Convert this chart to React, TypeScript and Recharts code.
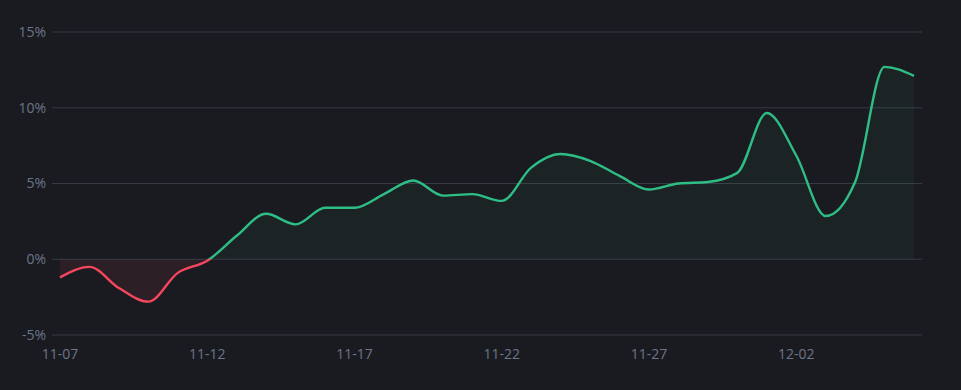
import React from "react";
import { AreaChart, Area, XAxis, YAxis, CartesianGrid } from "recharts";

const dates = [
  "11-07", "11-08", "11-09", "11-10", "11-11", "11-12", "11-13", "11-14", "11-15", "11-16",
  "11-17", "11-18", "11-19", "11-20", "11-21", "11-22", "11-23", "11-24", "11-25", "11-26",
  "11-27", "11-28", "11-29", "11-30", "12-01", "12-02", "12-03", "12-04", "12-05", "12-06",
];
const pnlPct = [
  -1.2, -0.5, -1.9, -2.8, -0.9, -0.1, 1.55, 3.0, 2.3, 3.4,
  3.4, 4.3, 5.2, 4.2, 4.3, 3.85, 6.05, 6.95, 6.5, 5.5,
  4.6, 5.0, 5.1, 5.7, 9.65, 6.85, 2.85, 5.1, 12.7, 12.1,
];
const yTicks = [-5, 0, 5, 10, 15];

const data = dates.map((d, i) => ({ date: d, value: pnlPct[i] }));

const maxV = Math.max(...pnlPct);
const minV = Math.min(...pnlPct, 0);
const zeroOffset = maxV / (maxV - minV);

const GREEN = "#2ebd85";
const RED = "#f6465d";
const tickStyle = { fill: "#6b7689", fontSize: 14, fontFamily: "Open Sans, sans-serif" };

export default function App() {
  return (
    <div style={{ position: "fixed", left: 0, top: 0, width: 961, height: 390, background: "#1a1b20" }}>
      <AreaChart width={961} height={390} data={data} margin={{ top: 32, right: 39, left: 0, bottom: 0 }}>
        <defs>
          <linearGradient id="lineSplit" x1="0" y1="0" x2="0" y2="1">
            <stop offset={zeroOffset} stopColor={GREEN} />
            <stop offset={zeroOffset} stopColor={RED} />
          </linearGradient>
          <linearGradient id="fillSplit" x1="0" y1="0" x2="0" y2="1">
            <stop offset={zeroOffset} stopColor={GREEN} stopOpacity={0.05} />
            <stop offset={zeroOffset} stopColor={RED} stopOpacity={0.08} />
          </linearGradient>
        </defs>
        <CartesianGrid vertical={false} stroke="#363a45" />
        <XAxis
          dataKey="date"
          interval={4}
          axisLine={false}
          tickLine={false}
          tickMargin={8}
          height={55}
          padding={{ left: 8, right: 8 }}
          tick={tickStyle}
        />
        <YAxis
          domain={[-5, 15]}
          ticks={yTicks}
          width={52}
          axisLine={false}
          tickLine={false}
          tickMargin={0}
          tickFormatter={(v: number) => `${v}%`}
          tick={tickStyle}
        />
        <Area
          type="monotone"
          dataKey="value"
          stroke="url(#lineSplit)"
          strokeWidth={2.4}
          fill="url(#fillSplit)"
          fillOpacity={1}
          dot={false}
          activeDot={false}
          isAnimationActive={false}
        />
      </AreaChart>
    </div>
  );
}
